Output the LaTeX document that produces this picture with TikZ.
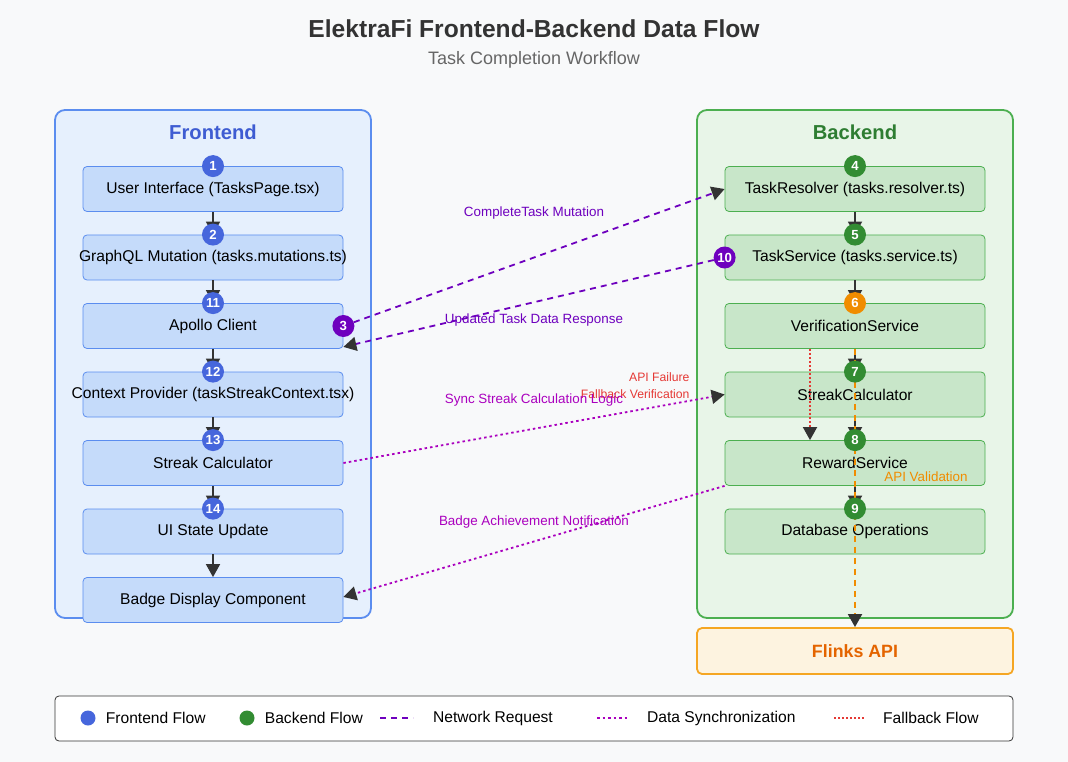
\documentclass[tikz,border=0pt]{standalone}
\usepackage{fontspec}
\setmainfont{Liberation Sans}
\definecolor{pagebg}{RGB}{248, 249, 250}
\definecolor{titlegray}{RGB}{51, 51, 51}
\definecolor{subgray}{RGB}{102, 102, 102}
\definecolor{arrowgray}{RGB}{51, 51, 51}
\definecolor{frontline}{RGB}{91, 141, 239}
\definecolor{frontpanel}{RGB}{230, 240, 253}
\definecolor{frontfill}{RGB}{197, 219, 250}
\definecolor{fronttitle}{RGB}{62, 92, 210}
\definecolor{frontdot}{RGB}{70, 102, 220}
\definecolor{backline}{RGB}{76, 175, 80}
\definecolor{backpanel}{RGB}{232, 245, 232}
\definecolor{backfill}{RGB}{200, 230, 201}
\definecolor{backtitle}{RGB}{46, 125, 50}
\definecolor{backdot}{RGB}{50, 140, 50}
\definecolor{apiorange}{RGB}{240, 140, 0}
\definecolor{flinksline}{RGB}{245, 166, 35}
\definecolor{flinksfill}{RGB}{253, 243, 224}
\definecolor{flinkstext}{RGB}{228, 100, 0}
\definecolor{netpurple}{RGB}{110, 0, 190}
\definecolor{syncpurple}{RGB}{170, 0, 190}
\definecolor{fallred}{RGB}{229, 57, 53}
\usepackage{tikz}
\usetikzlibrary{arrows.meta, positioning}
\newcommand{\overflowtext}[1]{\makebox[0pt]{#1}}

\begin{document}
\begin{tikzpicture}[
      x=1pt, y=-1pt,
      node distance=22.7pt,
      panel/.style={rectangle, rounded corners=10pt, line width=1.8pt},
      frontbox/.style={rectangle, draw=frontline, fill=frontfill, rounded corners=4pt,
                       minimum width=260pt, minimum height=45pt, line width=0.8pt,
                       font=\fontsize{15.6}{17}\selectfont},
      backbox/.style={frontbox, draw=backline, fill=backfill},
      badge/.style={circle, minimum size=22pt, inner sep=0pt, text=white,
                    font=\fontsize{13.2}{13}\selectfont\bfseries},
      arr/.style={-{Triangle[width=14pt, length=13pt, color=arrowgray]}, line width=1.8pt, arrowgray},
      net/.style={arr, netpurple, dash pattern=on 6pt off 5pt},
      sync/.style={arr, syncpurple, dash pattern=on 2.5pt off 3pt},
      fallback/.style={arr, fallred, dash pattern=on 2pt off 2pt},
      apicall/.style={arr, apiorange, dash pattern=on 6pt off 5pt},
      lbl/.style={font=\fontsize{13.4}{15}\selectfont},
      legtext/.style={font=\fontsize{15.6}{17}\selectfont, text=black, anchor=west, inner sep=0pt}
    ]
      \fill[pagebg] (0,0) rectangle (1068,762);
      \useasboundingbox (0,0) rectangle (1068,762);

      % Heading
      \node[font=\fontsize{24.6}{28}\selectfont\bfseries, text=titlegray] (title) at (534,29) {ElektraFi Frontend-Backend Data Flow};
      \node[font=\fontsize{18}{20}\selectfont, text=subgray] (subtitle) at (534,60) {Task Completion Workflow};

      % Panels
      \node[panel, draw=frontline, fill=frontpanel, minimum width=316pt, minimum height=508pt] (front) at (213,364) {};
      \node[panel, draw=backline, fill=backpanel, minimum width=316pt, minimum height=508pt] (back) at (855,364) {};
      \node[font=\fontsize{20.2}{22}\selectfont\bfseries, text=fronttitle] (fronthead) at (213,132) {Frontend};
      \node[font=\fontsize{20.2}{22}\selectfont\bfseries, text=backtitle] (backhead) at (855,132) {Backend};

      % Frontend steps
      \node[frontbox] (ui) at (213,189) {User Interface (TasksPage.tsx)};
      \node[frontbox, below=of ui] (gql) {\overflowtext{GraphQL Mutation (tasks.mutations.ts)}};
      \node[frontbox, below=of gql] (apollo) {Apollo Client};
      \node[frontbox, below=of apollo] (context) {\overflowtext{Context Provider (taskStreakContext.tsx)}};
      \node[frontbox, below=of context] (streak) {Streak Calculator};
      \node[frontbox, below=of streak] (state) {UI State Update};
      \node[frontbox, below=of state] (badgedisp) {Badge Display Component};

      % Backend steps
      \node[backbox] (resolver) at (855,189) {TaskResolver (tasks.resolver.ts)};
      \node[backbox, below=of resolver] (service) {TaskService (tasks.service.ts)};
      \node[backbox, below=of service] (verify) {VerificationService};
      \node[backbox, below=of verify] (calc) {StreakCalculator};
      \node[backbox, below=of calc] (reward) {RewardService};
      \node[backbox, below=of reward] (db) {Database Operations};

      % External API
      \node[panel, draw=flinksline, fill=flinksfill, rounded corners=5pt, minimum width=316pt, minimum height=46pt,
            font=\fontsize{17.8}{20}\selectfont\bfseries, text=flinkstext] (flinks) at (855,651) {Flinks API};

      % Step arrows
      \draw[arr] (ui) -- (gql);
      \draw[arr] (gql) -- (apollo);
      \draw[arr] (apollo) -- (context);
      \draw[arr] (context) -- (streak);
      \draw[arr] (streak) -- (state);
      \draw[arr] (state) -- (badgedisp);
      \draw[arr] (resolver) -- (service);
      \draw[arr] (service) -- (verify);
      \draw[arr] (verify) -- (calc);
      \draw[arr] (calc) -- (reward);
      \draw[arr] (reward) -- (db);

      % Fallback and API validation
      \draw[fallback] ([xshift=-45pt]verify.south) -- ([xshift=-45pt]reward.north);
      \draw[apicall] (verify.south) -- (flinks.north);
      \node[lbl, font=\fontsize{12.2}{14}\selectfont, text=fallred, anchor=east] (failtxt) at (693,377) {API Failure};
      \node[lbl, font=\fontsize{12.2}{14}\selectfont, text=fallred, anchor=east] (fallbacktxt) at (693,394) {Fallback Verification};
      \node[lbl, text=apiorange] (validtxt) at (926,477) {API Validation};

      % Step badges
      \node[badge, fill=frontdot] (n1) at (ui.north) {1};
      \node[badge, fill=frontdot] (n2) at (gql.north) {2};
      \node[badge, fill=frontdot] (n11) at (apollo.north) {11};
      \node[badge, fill=frontdot] (n12) at (context.north) {12};
      \node[badge, fill=frontdot] (n13) at (streak.north) {13};
      \node[badge, fill=frontdot] (n14) at (state.north) {14};
      \node[badge, fill=backdot] (n4) at (resolver.north) {4};
      \node[badge, fill=backdot] (n5) at (service.north) {5};
      \node[badge, fill=apiorange] (n6) at (verify.north) {6};
      \node[badge, fill=backdot] (n7) at (calc.north) {7};
      \node[badge, fill=backdot] (n8) at (reward.north) {8};
      \node[badge, fill=backdot] (n9) at (db.north) {9};
      \node[badge, fill=netpurple] (n3) at (apollo.east) {3};
      \node[badge, fill=netpurple] (n10) at (service.west) {10};

      % Network requests and data sync
      \draw[net] (n3) -- (resolver.west);
      \draw[net] (n10) -- ([yshift=2pt]apollo.south east);
      \draw[sync] (streak.east) -- (calc.west);
      \draw[sync] (reward.south west) -- ([yshift=3pt]badgedisp.east);
      \node[lbl, text=netpurple] (mutationtxt) at (534,213) {CompleteTask Mutation};
      \node[lbl, text=netpurple] (responsetxt) at (534,320) {Updated Task Data Response};
      \node[lbl, text=syncpurple] (synctxt) at (534,400) {Sync Streak Calculation Logic};
      \node[lbl, text=syncpurple] (notifytxt) at (534,522) {Badge Achievement Notification};

      % Legend
      \node[rectangle, draw=titlegray, fill=white, rounded corners=4pt, line width=0.8pt,
            minimum width=958pt, minimum height=45pt] (legend) at (534,718.5) {};
      \node[circle, fill=frontdot, minimum size=15pt, inner sep=0pt] (legfront) at (88,718) {};
      \node[legtext, right=10pt of legfront] (legfronttxt) {Frontend Flow};
      \node[circle, fill=backdot, minimum size=15pt, inner sep=0pt] (legback) at (247,718) {};
      \node[legtext, right=10pt of legback] (legbacktxt) {Backend Flow};
      \draw[netpurple, line width=1.8pt, dash pattern=on 6pt off 5pt] (380,718) -- (413,718);
      \node[legtext] (legnet) at (433,718) {Network Request};
      \draw[syncpurple, line width=1.8pt, dash pattern=on 2.5pt off 3pt] (597,718) -- (628,718);
      \node[legtext] (legsync) at (647,718) {Data Synchronization};
      \draw[fallred, line width=1.8pt, dash pattern=on 2pt off 2pt] (834,718) -- (865,718);
      \node[legtext] (legfall) at (883,718) {Fallback Flow};
    \end{tikzpicture}
\end{document}
